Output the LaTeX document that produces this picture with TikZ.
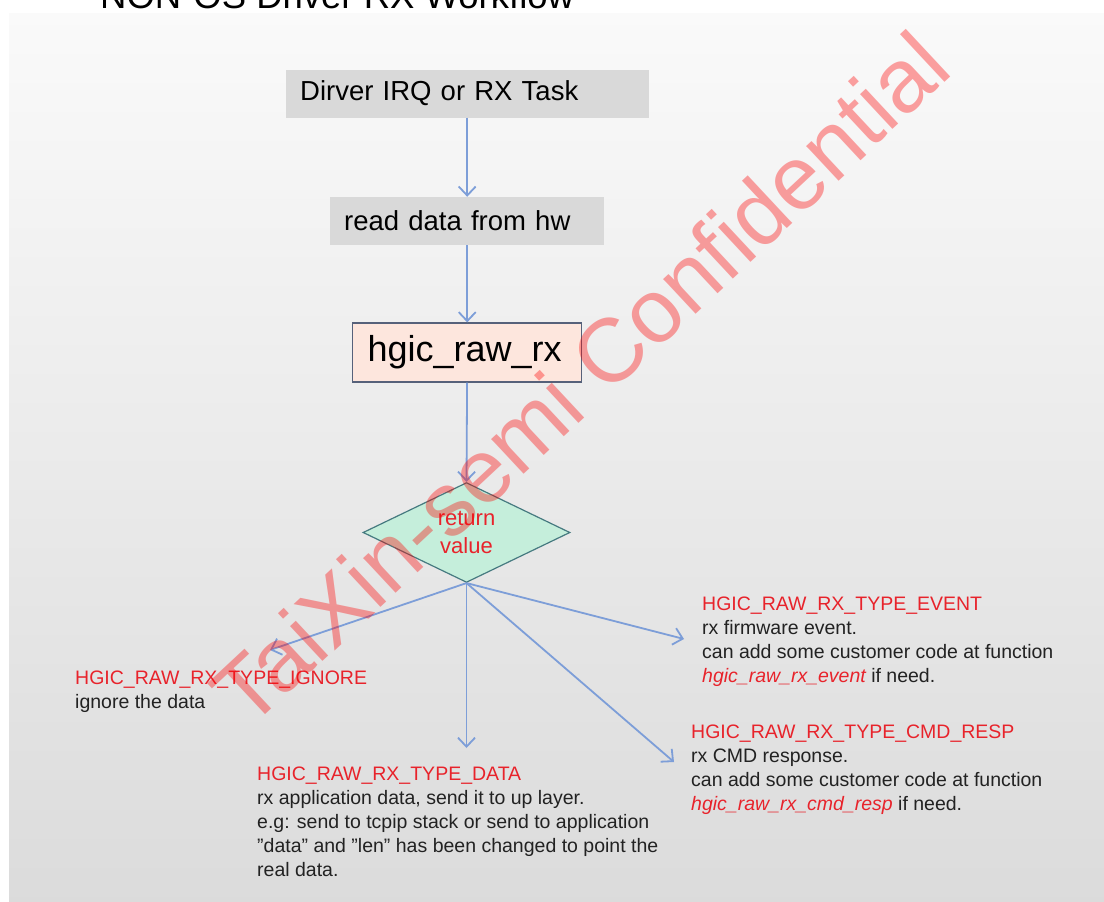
\documentclass[tikz,border=0pt]{standalone}
\usepackage{fontspec}
\setmainfont{Liberation Sans}
\usetikzlibrary{shapes.geometric,arrows.meta}
\definecolor{boxgray}{HTML}{D9D9D9}
\definecolor{rawpink}{HTML}{FDE6DD}
\definecolor{rawline}{HTML}{56617A}
\definecolor{retgreen}{HTML}{C5EEDB}
\definecolor{retline}{HTML}{467A80}
\definecolor{flowblue}{HTML}{7D9ED8}
\definecolor{typered}{HTML}{E8232B}
\definecolor{bodytext}{HTML}{222222}

\begin{document}
\begin{tikzpicture}[x=1pt,y=-1pt,
  stepbox/.style={fill=boxgray,anchor=west,minimum height=48,inner xsep=14,inner ysep=0,align=left,font=\fontsize{27.5}{33}\selectfont},
  flow/.style={draw=flowblue,line width=1.8,-{Straight Barb[length=9,width=17,line width=1.8]}},
  note/.style={anchor=base west,inner sep=0,align=left,text=bodytext,font=\fontsize{19.5}{24}\selectfont}]
\useasboundingbox (0,0) rectangle (1104,902);
\clip (0,0) rectangle (1104,902);
\shade[top color=black!2,bottom color=black!14] (9,13) rectangle (1104,902);
\node[anchor=base west,inner sep=0,font=\fontsize{36.5}{40}\selectfont] (title) at (100,9) {NON-OS Driver RX Workflow};

\node[stepbox,minimum width=363,text width=335] (irq) at (286,93.5) {Dirver IRQ or RX Task};
\node[stepbox,minimum width=274,text width=246] (readhw) at (330,221) {read data from hw};
\node[draw=rawline,line width=1.2,fill=rawpink,anchor=west,minimum width=229,minimum height=59,inner xsep=15,inner ysep=0,text width=199,align=left,font=\fontsize{36}{40}\selectfont] (rawrx) at (352,352.5) {hgic\_raw\_rx};
\node[diamond,draw=retline,line width=1.2,fill=retgreen,minimum width=207,minimum height=99,inner sep=0,align=center,text=typered,font=\fontsize{22}{28}\selectfont] (ret) at (466.5,532.5) {return\\value};

\coordinate (ignoretip) at (270,650);
\coordinate (datatip) at (466.5,748);
\coordinate (eventtip) at (684,639);
\coordinate (cmdtip) at (674,762);

\draw[flow] (irq.south -| readhw) -- (readhw.north);
\draw[flow] (readhw.south) -- (rawrx.north -| readhw);
\draw[flow] (rawrx.south) -- (ret.north);
\draw[flow] (ret.south) -- (ignoretip);
\draw[flow] (ret.south) -- (datatip);
\draw[flow] (ret.south) -- (eventtip);
\draw[flow] (ret.south) -- (cmdtip);

% base west sits on the last line
\node[note] (ignore) at (75,708) {{\color{typered}HGIC\_RAW\_RX\_TYPE\_IGNORE}\\ignore the data};
\node[note] (data) at (257,876) {{\color{typered}HGIC\_RAW\_RX\_TYPE\_DATA}\\rx application data, send it to up layer.\\e.g: send to tcpip stack or send to application\\"data" and "len" has been changed to point the\\real data.};
\node[note] (event) at (702,682) {{\color{typered}HGIC\_RAW\_RX\_TYPE\_EVENT}\\rx firmware event.\\can add some customer code at function\\{\color{typered}\itshape hgic\_raw\_rx\_event} if need.};
\node[note] (cmdresp) at (691,810) {{\color{typered}HGIC\_RAW\_RX\_TYPE\_CMD\_RESP}\\rx CMD response.\\can add some customer code at function\\{\color{typered}\itshape hgic\_raw\_rx\_cmd\_resp} if need.};

\node[rotate=43,text=red,text opacity=0.36,inner sep=0,font=\fontsize{90}{96}\selectfont] (mark) at (580,378) {TaiXin-semi Confidential};
\end{tikzpicture}
\end{document}
